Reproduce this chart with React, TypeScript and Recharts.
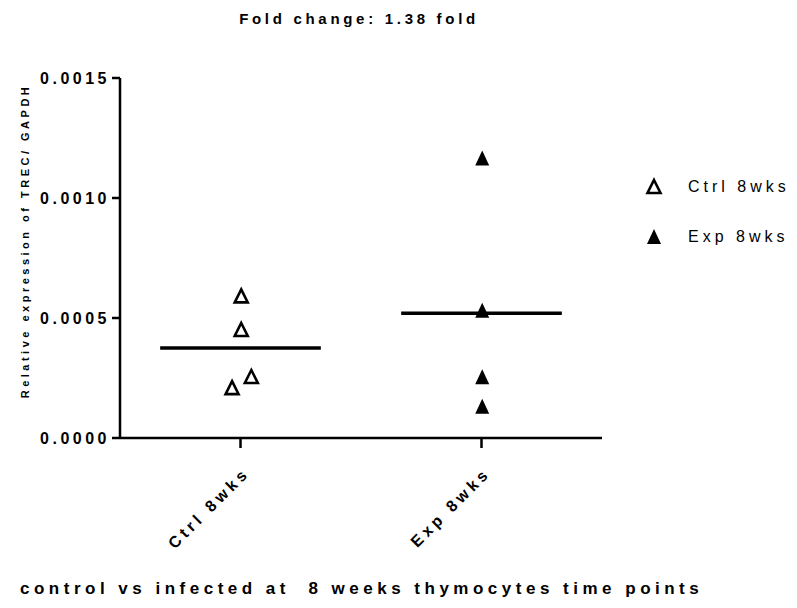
import React from 'react';
import { ComposedChart, Scatter, XAxis, YAxis, ReferenceLine } from 'recharts';

const categories = ['Ctrl 8wks', 'Exp 8wks'];
const yTicks = [0, 0.0005, 0.001, 0.0015];

// x position of each point (1 = Ctrl, 2 = Exp, small offsets are the dot spread)
const ctrlX = [1.003, 1.003, 0.965, 1.045];
const ctrlY = [0.00059, 0.00045, 0.000208, 0.000254];
const expX = [2.003, 2.003, 2.003, 2.003];
const expY = [0.001165, 0.00053, 0.000253, 0.00013];

const font = '"Liberation Sans", Arial, sans-serif';

const ctrlData = ctrlX.map((x, i) => ({ x, y: ctrlY[i] }));
const expData = expX.map((x, i) => ({ x, y: expY[i] }));
const mean = (a: number[]) => a.reduce((s, v) => s + v, 0) / a.length;

const OpenTri = (props: any) => {
  const { cx, cy } = props;
  return (
    <polygon
      points={`${cx},${cy - 7} ${cx + 6.5},${cy + 6} ${cx - 6.5},${cy + 6}`}
      fill='#fff' stroke='#000' strokeWidth={2.6} strokeLinejoin='miter'
    />
  );
};

const FilledTri = (props: any) => {
  const { cx, cy } = props;
  return <polygon points={`${cx},${cy - 8} ${cx + 7},${cy + 7} ${cx - 7},${cy + 7}`} fill='#000' />;
};

const XTick = (props: any) => {
  const { x, y, payload } = props;
  return (
    <g transform={`translate(${x + 10},${y + 24})`}>
      <text textAnchor='end' transform='rotate(-45)' fontFamily={font} fontWeight='bold'
        fontSize={16} letterSpacing={4} fill='#000'>
        {categories[payload.value - 1]}
      </text>
    </g>
  );
};

const LegendBox = () => (
  <div style={{ position: 'absolute', left: 640, top: 162, fontFamily: font, fontSize: 16,
    letterSpacing: 4, color: '#000' }}>
    {[0, 1].map(i => (
      <div key={i} style={{ display: 'flex', alignItems: 'center', height: 50 }}>
        <svg width={30} height={20}>
          {i === 0 ? <OpenTri cx={14} cy={10} /> : <FilledTri cx={14} cy={10} />}
        </svg>
        <span style={{ marginLeft: 18 }}>{categories[i]}</span>
      </div>
    ))}
  </div>
);

export default function App() {
  return (
    <div style={{ position: 'absolute', left: 0, top: 0, width: 797, height: 608, background: '#fff' }}>
      <div style={{ position: 'absolute', left: 0, width: 718, top: 10, textAlign: 'center',
        fontFamily: font, fontWeight: 'bold', fontSize: 15, letterSpacing: 3.7 }}>
        Fold change: 1.38 fold
      </div>
      <div style={{ position: 'absolute', left: 25, top: 241, width: 0, height: 0 }}>
        <div style={{ position: 'absolute', left: -200, top: -8, width: 400, textAlign: 'center',
          transform: 'rotate(-90deg)', fontFamily: font, fontWeight: 'bold', fontSize: 11,
          letterSpacing: 3.5, lineHeight: '16px', whiteSpace: 'pre' }}>
          Relative expression of TREC/ GAPDH
        </div>
      </div>
      <ComposedChart width={797} height={608} margin={{ top: 78, right: 195, left: 60, bottom: 140 }}>
        <XAxis type='number' dataKey='x' domain={[0.5, 2.5]} ticks={[1, 2]} interval={0}
          height={30} tickSize={10} tick={<XTick />}
          axisLine={{ stroke: '#000', strokeWidth: 2.5 }} tickLine={{ stroke: '#000', strokeWidth: 2.5 }} />
        <YAxis type='number' dataKey='y' domain={[0, 0.0015]} ticks={yTicks} width={60} tickSize={8}
          tickFormatter={(v: number) => v.toFixed(4)}
          tick={{ fill: '#000', fontFamily: font, fontWeight: 'bold', fontSize: 16, letterSpacing: 3.5 }}
          axisLine={{ stroke: '#000', strokeWidth: 2.5 }} tickLine={{ stroke: '#000', strokeWidth: 2.5 }} />
        <ReferenceLine segment={[{ x: 1 - 1 / 3, y: mean(ctrlY) }, { x: 1 + 1 / 3, y: mean(ctrlY) }]}
          stroke='#000' strokeWidth={3.5} />
        <ReferenceLine segment={[{ x: 2 - 1 / 3, y: mean(expY) }, { x: 2 + 1 / 3, y: mean(expY) }]}
          stroke='#000' strokeWidth={3.5} />
        <Scatter name={categories[0]} data={ctrlData} shape={<OpenTri />} isAnimationActive={false} />
        <Scatter name={categories[1]} data={expData} shape={<FilledTri />} isAnimationActive={false} />
      </ComposedChart>
      <LegendBox />
      <div style={{ position: 'absolute', left: 20, top: 579, fontFamily: font, fontWeight: 'bold',
        fontSize: 17, letterSpacing: 4.5, whiteSpace: 'pre' }}>
        control vs infected at  8 weeks thymocytes time points
      </div>
    </div>
  );
}
